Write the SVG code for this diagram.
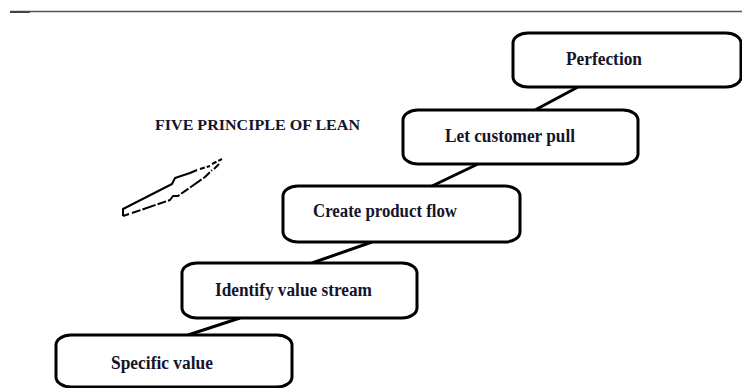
<svg xmlns="http://www.w3.org/2000/svg" width="742" height="388" viewBox="0 0 742 388">
  <style>
    .box { fill: #ffffff; stroke: #000000; stroke-width: 3; }
    .lbl { font-family: "Liberation Serif", "Times New Roman", serif; font-weight: bold; font-size: 18px; fill: #14142a; }
    .ttl { font-family: "Liberation Serif", "Times New Roman", serif; font-weight: bold; font-size: 15.5px; fill: #14142a; }
    .link { stroke: #000000; stroke-width: 3; fill: none; }
    .sketch { stroke: #000000; stroke-width: 2; fill: none; stroke-linejoin: round; }
  </style>
  <rect width="742" height="388" fill="#ffffff"/>

  <!-- header rule -->
  <line x1="10" y1="11.5" x2="742" y2="11.5" stroke="#555555" stroke-width="1.3"/>
  <line x1="10" y1="12" x2="30" y2="12" stroke="#444444" stroke-width="2"/>

  <!-- title -->
  <text class="ttl" x="155" y="130" textLength="205" lengthAdjust="spacingAndGlyphs">FIVE PRINCIPLE OF LEAN</text>

  <!-- hand-drawn arrow -->
  <g id="arrow">
    <path class="sketch" d="M123,216 L123,209 L172,184 L175,178 L190,173 L197,170"/>
    <path class="sketch" d="M123,216 L129,214"/>
    <path class="sketch" d="M132,213 L170,200 L173,196 L178,196 L205,177 L212,170" stroke-dasharray="9 2 14 2"/>
    <path class="sketch" d="M200,169 L210,166 M212,164 L222,159" stroke-dasharray="5 2"/>
    <path class="sketch" d="M214,169 L219,164"/>
  </g>

  <!-- connectors -->
  <g id="connectors">
    <line class="link" x1="578" y1="87" x2="535" y2="110"/>
    <line class="link" x1="478" y1="164" x2="432" y2="186"/>
    <line class="link" x1="372" y1="242" x2="312" y2="263"/>
    <line class="link" x1="240" y1="318" x2="188" y2="335"/>
  </g>

  <!-- steps -->
  <g id="perfection">
    <rect class="box" x="513" y="33" width="228" height="54" rx="15" ry="10"/>
    <text class="lbl" x="566" y="65" textLength="76" lengthAdjust="spacingAndGlyphs">Perfection</text>
  </g>
  <g id="customer-pull">
    <rect class="box" x="403" y="110" width="235" height="54" rx="15" ry="10"/>
    <text class="lbl" x="445" y="142" textLength="130" lengthAdjust="spacingAndGlyphs">Let customer pull</text>
  </g>
  <g id="product-flow">
    <rect class="box" x="283" y="186" width="237" height="56" rx="15" ry="10"/>
    <text class="lbl" x="313" y="217" textLength="144" lengthAdjust="spacingAndGlyphs">Create product flow</text>
  </g>
  <g id="value-stream">
    <rect class="box" x="182" y="263" width="235" height="55" rx="15" ry="10"/>
    <text class="lbl" x="215" y="296" textLength="157" lengthAdjust="spacingAndGlyphs">Identify value stream</text>
  </g>
  <g id="specific-value">
    <rect class="box" x="56" y="335" width="236" height="52" rx="15" ry="10"/>
    <text class="lbl" x="111" y="369" textLength="102" lengthAdjust="spacingAndGlyphs">Specific value</text>
  </g>
</svg>
